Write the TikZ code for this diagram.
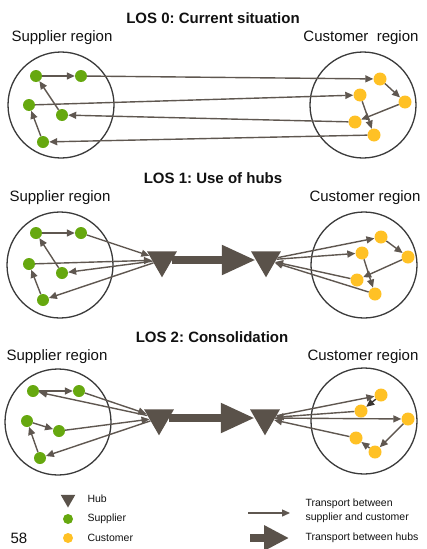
\documentclass[tikz,border=0pt]{standalone}
\usepackage{fontspec}
\setmainfont{Liberation Sans}
\frenchspacing
\usetikzlibrary{positioning,arrows.meta,shapes.geometric}
\definecolor{supC}{HTML}{66A80F}
\definecolor{cusC}{HTML}{FFC125}
\definecolor{flowC}{HTML}{5F5750}
\definecolor{darkflowC}{HTML}{3A3531}
\definecolor{hubC}{HTML}{5A524A}
\definecolor{ringC}{HTML}{3A3A3A}
\definecolor{textC}{HTML}{111111}

\begin{document}
\begin{tikzpicture}[
  x=1pt, y=-1pt,
  every node/.style={text=textC},
  title/.style={font=\fontsize{15}{18}\selectfont\bfseries},
  regionlabel/.style={font=\fontsize{15}{18}\selectfont},
  region/.style={circle, draw=ringC, line width=1.3pt,
    minimum size=106pt, inner sep=0pt},
  supplier/.style={circle, fill=supC, minimum size=12pt, inner sep=0pt},
  customer/.style={circle, fill=cusC, minimum size=13pt, inner sep=0pt},
  hub/.style={regular polygon, regular polygon sides=3,
    shape border rotate=180, fill=hubC, minimum size=34.6pt, inner sep=0pt},
  flow/.style={-{Triangle[length=8pt,width=7pt]}, flowC, line width=1.4pt},
  hubflow/.style={-{Triangle[length=34pt,width=28pt]}, hubC, line width=8pt},
  legend/.style={font=\fontsize{10.5}{14}\selectfont, anchor=west, align=left},
]
\useasboundingbox (0,0) rectangle (426,549);

% ── LOS 0: Current situation ──
\node[title] (t0) at (213,18) {LOS 0: Current situation};
\node[regionlabel] (sl0) at (62,38) {Supplier region};
\node[regionlabel] (cl0) at (361,38) {Customer\ \ region};
\node[region] (sr0) at (61,105) {};
\node[region] (cr0) at (363,105) {};

\node[supplier] (s01) at (36,76) {};
\node[supplier] (s02) at (81,76) {};
\node[supplier] (s03) at (29,105) {};
\node[supplier] (s04) at (62,115) {};
\node[supplier] (s05) at (43,142) {};

\node[customer] (c01) at (380,79) {};
\node[customer] (c02) at (360,95) {};
\node[customer] (c03) at (405,102) {};
\node[customer] (c04) at (355,122) {};
\node[customer] (c05) at (374,135) {};

\draw[flow] (s01) -- (s02);
\draw[flow] (s04) -- (s01);
\draw[flow] (s05) -- (s03);
\draw[flow] (s02) -- (c01);
\draw[flow] (s03) -- (c02);
\draw[flow] (c04) -- (s04);
\draw[flow] (c05) -- (s05);
\draw[flow] (c01) -- (c03);
\draw[flow] (c03) -- (c04);
\draw[flow] (c02) -- (c05);

% ── LOS 1: Use of hubs ──
\node[title] (t1) at (213,178) {LOS 1: Use of hubs};
\node[regionlabel] (sl1) at (60,198) {Supplier region};
\node[regionlabel] (cl1) at (365,198) {Customer region};
\node[region] (sr1) at (60,265) {};
\node[region] (cr1) at (364,265) {};

\node[supplier] (s11) at (36,233) {};
\node[supplier] (s12) at (81,233) {};
\node[supplier] (s13) at (29,264) {};
\node[supplier] (s14) at (62,273) {};
\node[supplier] (s15) at (43,300) {};

\node[customer] (c11) at (381,237) {};
\node[customer] (c12) at (362,253) {};
\node[customer] (c13) at (408,257) {};
\node[customer] (c14) at (357,280) {};
\node[customer] (c15) at (375,294) {};

\node[hub] (hubL1) at (162,260) {};
\node[hub] (hubR1) at (266,260) {};

\draw[hubflow] (hubL1) -- (hubR1);
\draw[flow] (s11) -- (s12);
\draw[flow] (s14) -- (s11);
\draw[flow] (s15) -- (s13);
\draw[flow] (s12) -- (hubL1);
\draw[flow] (s13) -- (hubL1);
\draw[flow] (hubL1) -- (s14);
\draw[flow] (hubL1) -- (s15);
\draw[flow] (hubR1) -- (c11);
\draw[flow] (hubR1) -- (c12);
\draw[flow] (c11) -- (c13);
\draw[flow] (c13) -- (c14);
\draw[flow] (c12) -- (c15);
\draw[flow] (c14) -- (hubR1);
\draw[flow] (c15) -- (hubR1);

% ── LOS 2: Consolidation ──
\node[title] (t2) at (212,337) {LOS 2: Consolidation};
\node[regionlabel] (sl2) at (57,357) {Supplier region};
\node[regionlabel] (cl2) at (363,357) {Customer region};
\node[region] (sr2) at (58,422) {};
\node[region] (cr2) at (364,421) {};

\node[supplier] (s21) at (33,391) {};
\node[supplier] (s22) at (79,391) {};
\node[supplier] (s23) at (27,421) {};
\node[supplier] (s24) at (59,431) {};
\node[supplier] (s25) at (40,458) {};

\node[customer] (c21) at (381,395) {};
\node[customer] (c22) at (361,411) {};
\node[customer] (c23) at (408,419) {};
\node[customer] (c24) at (356,438) {};
\node[customer] (c25) at (375,452) {};

\node[hub] (hubL2) at (159,418) {};
\node[hub] (hubR2) at (265,418) {};

\draw[hubflow] (hubL2) -- (hubR2);
\draw[flow] (s21) -- (s22);
\draw[flow] (s22) -- (hubL2);
\draw[flow] (hubL2) -- (s21);
\draw[flow] (s23) -- (s24);
\draw[flow] (s24) -- (hubL2);
\draw[flow] (hubL2) -- (s25);
\draw[flow] (s25) -- (s23);
\draw[flow] (hubR2) -- (c21);
\draw[flow] (c22) -- (hubR2);
\draw[flow, darkflowC] (c21) -- (c22);
\draw[flow] (hubR2) -- (c23);
\draw[flow] (c23) -- (c25);
\draw[flow] (c25) -- (c24);
\draw[flow] (c24) -- (hubR2);

% ── Legend ──
\node[font=\fontsize{15}{18}\selectfont] (page) at (19,538) {58};
\node[hub, minimum size=17pt] (legHub) at (68,499) {};
\node[supplier, minimum size=10pt] (legSup) at (68,519) {};
\node[customer, minimum size=10pt] (legCus) at (68,538) {};
\node[legend] (legHubT) at (84,499) {Hub};
\node[legend] (legSupT) at (84,519) {Supplier};
\node[legend] (legCusT) at (84,538) {Customer};

\coordinate (legA1) at (248,513);
\coordinate (legA2) at (290,513);
\coordinate (legB1) at (250,538);
\coordinate (legB2) at (289,538);
\draw[flow] (legA1) -- (legA2);
\draw[hubflow, -{Triangle[length=25pt,width=24pt]}] (legB1) -- (legB2);
\node[legend] (legFlowT) at (302,510.5) {Transport between\\supplier and customer};
\node[legend] (legHubFlowT) at (302,538) {Transport between hubs};

\end{tikzpicture}
\end{document}
